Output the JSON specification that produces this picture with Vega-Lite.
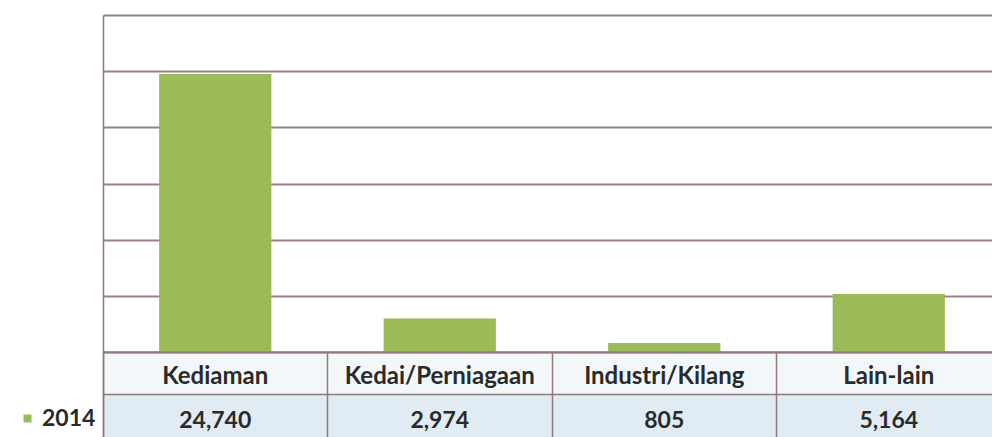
{
  "$schema": "https://vega.github.io/schema/vega-lite/v6.json",
  "background": "white",
  "padding": {"left": 0, "top": 15, "right": 0, "bottom": 0},
  "autosize": {"type": "pad"},
  "data": {"values": [
    {"kategori": "Kediaman", "nilai": 24740, "tahun": "2014"},
    {"kategori": "Kedai/Perniagaan", "nilai": 2974, "tahun": "2014"},
    {"kategori": "Industri/Kilang", "nilai": 805, "tahun": "2014"},
    {"kategori": "Lain-lain", "nilai": 5164, "tahun": "2014"}
  ]},
  "spacing": 0,
  "bounds": "flush",
  "vconcat": [
    {
      "width": 898,
      "height": 337,
      "mark": {"type": "bar", "width": {"band": 0.5}},
      "encoding": {
        "x": {"field": "kategori", "type": "nominal", "sort": null,
              "scale": {"paddingInner": 0, "paddingOuter": 0}, "axis": null},
        "y": {"field": "nilai", "type": "quantitative",
              "scale": {"domain": [0, 30000], "nice": false},
              "axis": {"title": null, "labels": false, "ticks": false, "domain": true,
                       "domainColor": "#8f7a7a", "domainWidth": 1.5,
                       "grid": true, "gridColor": "#9c8282", "gridWidth": 1.8,
                       "values": [0, 5000, 10000, 15000, 20000, 25000, 30000],
                       "minExtent": 103, "maxExtent": 103}},
        "color": {"field": "tahun", "type": "nominal", "scale": {"range": ["#9bbb59"]},
                  "legend": {"title": null, "orient": "none", "legendX": -87, "legendY": 392,
                             "symbolType": "square", "symbolSize": 64, "symbolStrokeWidth": 0,
                             "labelFont": "Lato", "labelFontSize": 23, "labelFontWeight": "bold",
                             "labelColor": "#2a2a2a",
                             "labelOffset": 3, "padding": 0}}
      }
    },
    {
      "width": 898,
      "height": 85,
      "encoding": {
        "x": {"field": "kategori", "type": "nominal", "sort": null,
              "scale": {"paddingInner": 0, "paddingOuter": 0},
              "axis": {"orient": "top", "title": null, "labels": false, "ticks": false,
                       "domain": true, "domainColor": "#8f7a7a", "domainWidth": 1.8,
                       "grid": true, "bandPosition": 0, "gridColor": "#8f7a7a", "gridWidth": 1.5}}
      },
      "layer": [
        {
          "mark": {"type": "rect", "color": "#f3f7fa"},
          "encoding": {
            "y": {"datum": "Kategori", "type": "nominal",
                  "scale": {"domain": ["Kategori", "2014"], "paddingInner": 0, "paddingOuter": 0},
                  "axis": {"title": null, "labels": false, "ticks": false, "domain": true,
                           "domainColor": "#8f7a7a", "domainWidth": 1.5,
                           "grid": true, "bandPosition": 0, "gridColor": "#8f7a7a", "gridWidth": 1.5,
                           "minExtent": 103, "maxExtent": 103}}
          }
        },
        {
          "mark": {"type": "rect", "color": "#e0ebf3"},
          "encoding": {"y": {"datum": "2014", "type": "nominal"}}
        },
        {
          "mark": {"type": "text", "font": "Lato", "fontSize": 24, "fontWeight": "bold", "color": "#2a2a2a", "dy": 4},
          "encoding": {
            "y": {"datum": "Kategori", "type": "nominal"},
            "text": {"field": "kategori", "type": "nominal"}
          }
        },
        {
          "mark": {"type": "text", "font": "Lato", "fontSize": 23, "fontWeight": "bold", "color": "#2a2a2a", "dy": 5},
          "encoding": {
            "y": {"datum": "2014", "type": "nominal"},
            "text": {"field": "nilai", "type": "quantitative", "format": ","}
          }
        }
      ]
    }
  ],
  "config": {
    "view": {"stroke": null},
    "font": "Lato"
  }
}
